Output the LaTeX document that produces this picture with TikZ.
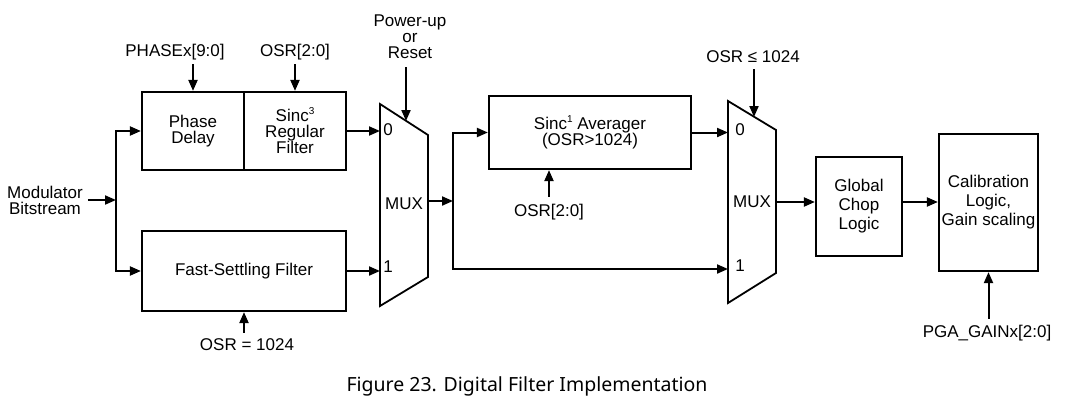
\documentclass[tikz,border=0pt]{standalone}
\usepackage{fontspec}
\setmainfont{Liberation Sans}
\newfontfamily\capfont{Noto Sans}
\usetikzlibrary{arrows.meta,positioning,calc}
\newcommand{\supnum}[1]{\raisebox{0.42em}{\fontsize{10}{10}\selectfont #1}}
\tikzset{
  blk/.style  = { draw, line width=2.2pt, inner sep=0pt, align=center },
  lbl/.style  = { inner sep=0pt, align=center },
  sig/.style  = { line width=2pt, -{Triangle[length=11pt,width=9pt]} },
  wire/.style = { line width=2pt },
  mux/.style  = { draw, line width=1.8pt, line join=miter },
  tall/.style = { font=\fontsize{17}{19}\selectfont }
}
\begin{document}
\begin{tikzpicture}[x=1pt,y=-1pt,font=\fontsize{17}{16}\selectfont]
    \useasboundingbox (0,0) rectangle (1080,407);
    \node[lbl] (mod) at (45,200) {Modulator\\Bitstream};
    \coordinate (split) at (116,200);
    \node[blk, minimum width=102pt, minimum height=78pt] (phase) at (193,131) {Phase\\Delay};
    \node[blk, minimum width=102pt, minimum height=78pt, right=-2.2pt of phase] (sinc) {Sinc\supnum{3}\\Regular\\Filter};
    \node[blk, minimum width=204pt, minimum height=80pt] (fast) at (244,271) {Fast-Settling Filter};
    \node[lbl] (phasex) at (175,52) {PHASEx[9:0]};
    \node[lbl] (osra) at (295,52) {OSR[2:0]};
    \node[lbl] (osrc) at (247,345) {OSR = 1024};
    \node[lbl] (pwr) at (410,37) {Power-up\\or\\Reset};

    \draw[mux] (380,104) coordinate (m1a) -- (428,135) -- (428,277) -- (380,306) -- cycle;
    \coordinate (m1in0) at (380,131);
    \coordinate (m1in1) at (380,271);
    \coordinate (m1out) at (428,201);
    \coordinate (m1sel) at (406,121);
    \node[lbl] (m1l0) at (388,130) {0};
    \node[lbl] (m1l1) at (388,267) {1};
    \node[lbl] (m1name) at (404,204) {MUX};

    \coordinate (split2) at (453,201);
    \node[blk, minimum width=202pt, minimum height=73pt] (avg) at (590,132.5) {Sinc\supnum{1} Averager\\(OSR>1024)};
    \node[lbl] (osrb) at (549,212) {OSR[2:0]};

    \draw[mux] (728,101) coordinate (m2a) -- (776,130) -- (776,273) -- (728,303) -- cycle;
    \coordinate (m2in0) at (728,132.5);
    \coordinate (m2in1) at (728,269);
    \coordinate (m2out) at (776,202);
    \coordinate (m2sel) at (754,117);
    \node[lbl] (m2l0) at (740,130) {0};
    \node[lbl] (m2l1) at (740,266) {1};
    \node[lbl] (m2name) at (752,202) {MUX};
    \node[lbl] (osrd) at (753,57) {OSR ≤ 1024};

    \node[blk, tall, minimum width=86pt, minimum height=99pt] (chop) at (859,206.5) {Global\\Chop\\Logic};
    \node[blk, tall, minimum width=99pt, minimum height=137pt] (cal) at (988.5,202.5) {Calibration\\Logic,\\Gain scaling};
    \node[lbl] (pga) at (987,333) {PGA\_GAINx[2:0]};

    \node[lbl, font=\capfont\fontsize{19.5}{21}\selectfont] (cap) at (527,386) {Figure 23. Digital Filter Implementation};

    \draw[sig] ([xshift=5pt]mod.east |- split) -- (split);
    \draw[wire] (split |- phase.west) -- (split |- fast.west);
    \draw[sig] (split) |- (phase.west);
    \draw[sig] (split) |- (fast.west);
    \draw[sig] ([yshift=-4pt]phasex.south -| phase.north) -- (phase.north);
    \draw[sig] ([yshift=-4pt]osra.south -| sinc.north) -- (sinc.north);
    \draw[sig] ([yshift=6pt]osrc.north -| fast.south) -- (fast.south);
    \draw[sig] (sinc.east) -- (m1in0);
    \draw[sig] (fast.east) -- (m1in1);
    \draw[sig] ([yshift=-8pt]pwr.south -| m1sel) -- (m1sel);
    \draw[sig] (m1out) -- (split2);
    \draw[wire] (split2 |- avg.west) -- (split2 |- m2in1);
    \draw[sig] (split2) |- (avg.west);
    \draw[sig] (split2) |- (m2in1);
    \draw[sig] ([yshift=7pt]osrb.north -| osrb.north) -- (osrb.north |- avg.south);
    \draw[sig] (avg.east) -- (m2in0);
    \draw[sig] ([yshift=-6pt]osrd.south -| m2sel) -- (m2sel);
    \draw[sig] (m2out) -- (m2out -| chop.west);
    \draw[sig] (chop.east |- m2out) -- (cal.west |- m2out);
    \draw[sig] ([yshift=6pt]pga.north -| cal.south) -- (cal.south);
  \end{tikzpicture}
\end{document}
